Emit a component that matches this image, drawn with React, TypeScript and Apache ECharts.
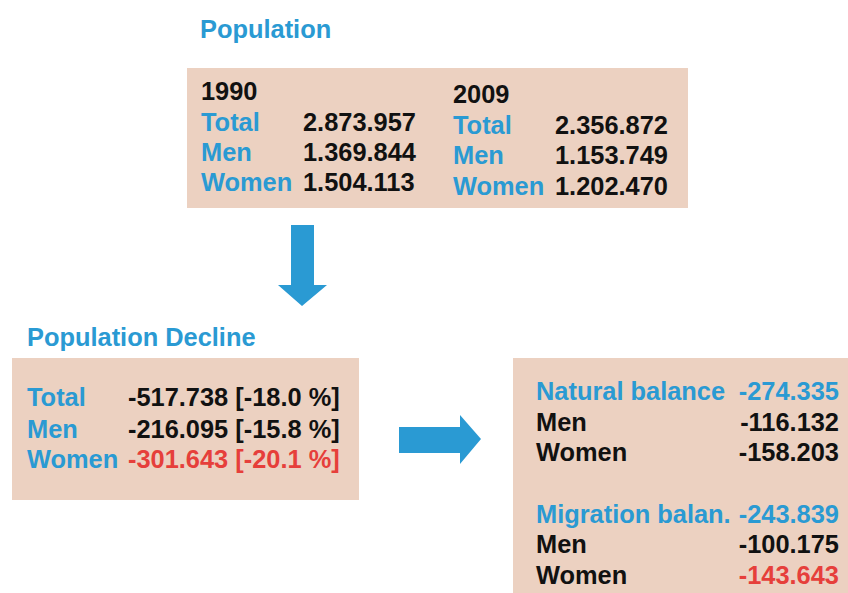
import React, { useEffect, useRef } from "react";
import * as echarts from "echarts";

const years = ["1990", "2009"];
const rowLabels = ["Total", "Men", "Women"];
const pop1990 = ["2.873.957", "1.369.844", "1.504.113"];
const pop2009 = ["2.356.872", "1.153.749", "1.202.470"];
const declineValues = ["-517.738 [-18.0 %]", "-216.095 [-15.8 %]", "-301.643 [-20.1 %]"];
const naturalLabels = ["Natural balance", "Men", "Women"];
const naturalValues = ["-274.335", "-116.132", "-158.203"];
const migrationLabels = ["Migration balan.", "Men", "Women"];
const migrationValues = ["-243.839", "-100.175", "-143.643"];

const BLUE = "#2a9ad3";
const RED = "#e63f3b";
const BLACK = "#111111";
const BOX = "#ecd1c1";
const FONT = "Liberation Sans, Arial, sans-serif";

function txt(x: number, y: number, text: string, fill: string, align: string = "left") {
  return {
    type: "text",
    x,
    y,
    style: {
      text,
      fill,
      font: `bold 25.4px ${FONT}`,
      textAlign: align,
      textVerticalAlign: "middle",
    },
  };
}

export default function App() {
  const ref = useRef<HTMLDivElement>(null);
  useEffect(() => {
    document.body.style.margin = "0";
    const chart = echarts.init(ref.current!, null, { renderer: "svg" });
    const g: any[] = [];
    // boxes
    g.push({ type: "rect", shape: { x: 187, y: 68, width: 501, height: 140 }, style: { fill: BOX } });
    g.push({ type: "rect", shape: { x: 12, y: 358, width: 347, height: 142 }, style: { fill: BOX } });
    g.push({ type: "rect", shape: { x: 513, y: 358, width: 340, height: 240 }, style: { fill: BOX } });
    // arrows
    g.push({
      type: "polygon",
      shape: { points: [[291, 225], [314, 225], [314, 285], [327, 285], [302, 306], [278, 285], [291, 285]] },
      style: { fill: BLUE },
    });
    g.push({
      type: "polygon",
      shape: { points: [[399, 427], [460, 427], [460, 415], [481, 439], [460, 464], [460, 453], [399, 453]] },
      style: { fill: BLUE },
    });
    // titles
    g.push(txt(200, 29, "Population", BLUE));
    g.push(txt(27, 337, "Population Decline", BLUE));
    // 1990 block
    g.push(txt(201, 91, years[0], BLACK));
    const y1 = [122, 152, 182];
    rowLabels.forEach((l, i) => {
      g.push(txt(201, y1[i], l, BLUE));
      g.push(txt(303, y1[i], pop1990[i], BLACK));
    });
    // 2009 block
    g.push(txt(453, 94, years[1], BLACK));
    const y2 = [125, 155, 186];
    rowLabels.forEach((l, i) => {
      g.push(txt(453, y2[i], l, BLUE));
      g.push(txt(555, y2[i], pop2009[i], BLACK));
    });
    // decline
    const y3 = [397, 429, 459];
    rowLabels.forEach((l, i) => {
      g.push(txt(27, y3[i], l, BLUE));
      g.push(txt(128, y3[i], declineValues[i], i === 2 ? RED : BLACK));
    });
    // natural / migration
    const y4 = [391, 422, 452];
    naturalLabels.forEach((l, i) => {
      g.push(txt(536, y4[i], l, i === 0 ? BLUE : BLACK));
      g.push(txt(839, y4[i], naturalValues[i], i === 0 ? BLUE : BLACK, "right"));
    });
    const y5 = [514, 544, 575];
    migrationLabels.forEach((l, i) => {
      g.push(txt(536, y5[i], l, i === 0 ? BLUE : BLACK));
      g.push(txt(839, y5[i], migrationValues[i], i === 0 ? BLUE : i === 2 ? RED : BLACK, "right"));
    });
    chart.setOption({ animation: false, backgroundColor: "#ffffff", graphic: { elements: g } });
    return () => chart.dispose();
  }, []);
  return <div ref={ref} style={{ width: 848, height: 593 }} />;
}
